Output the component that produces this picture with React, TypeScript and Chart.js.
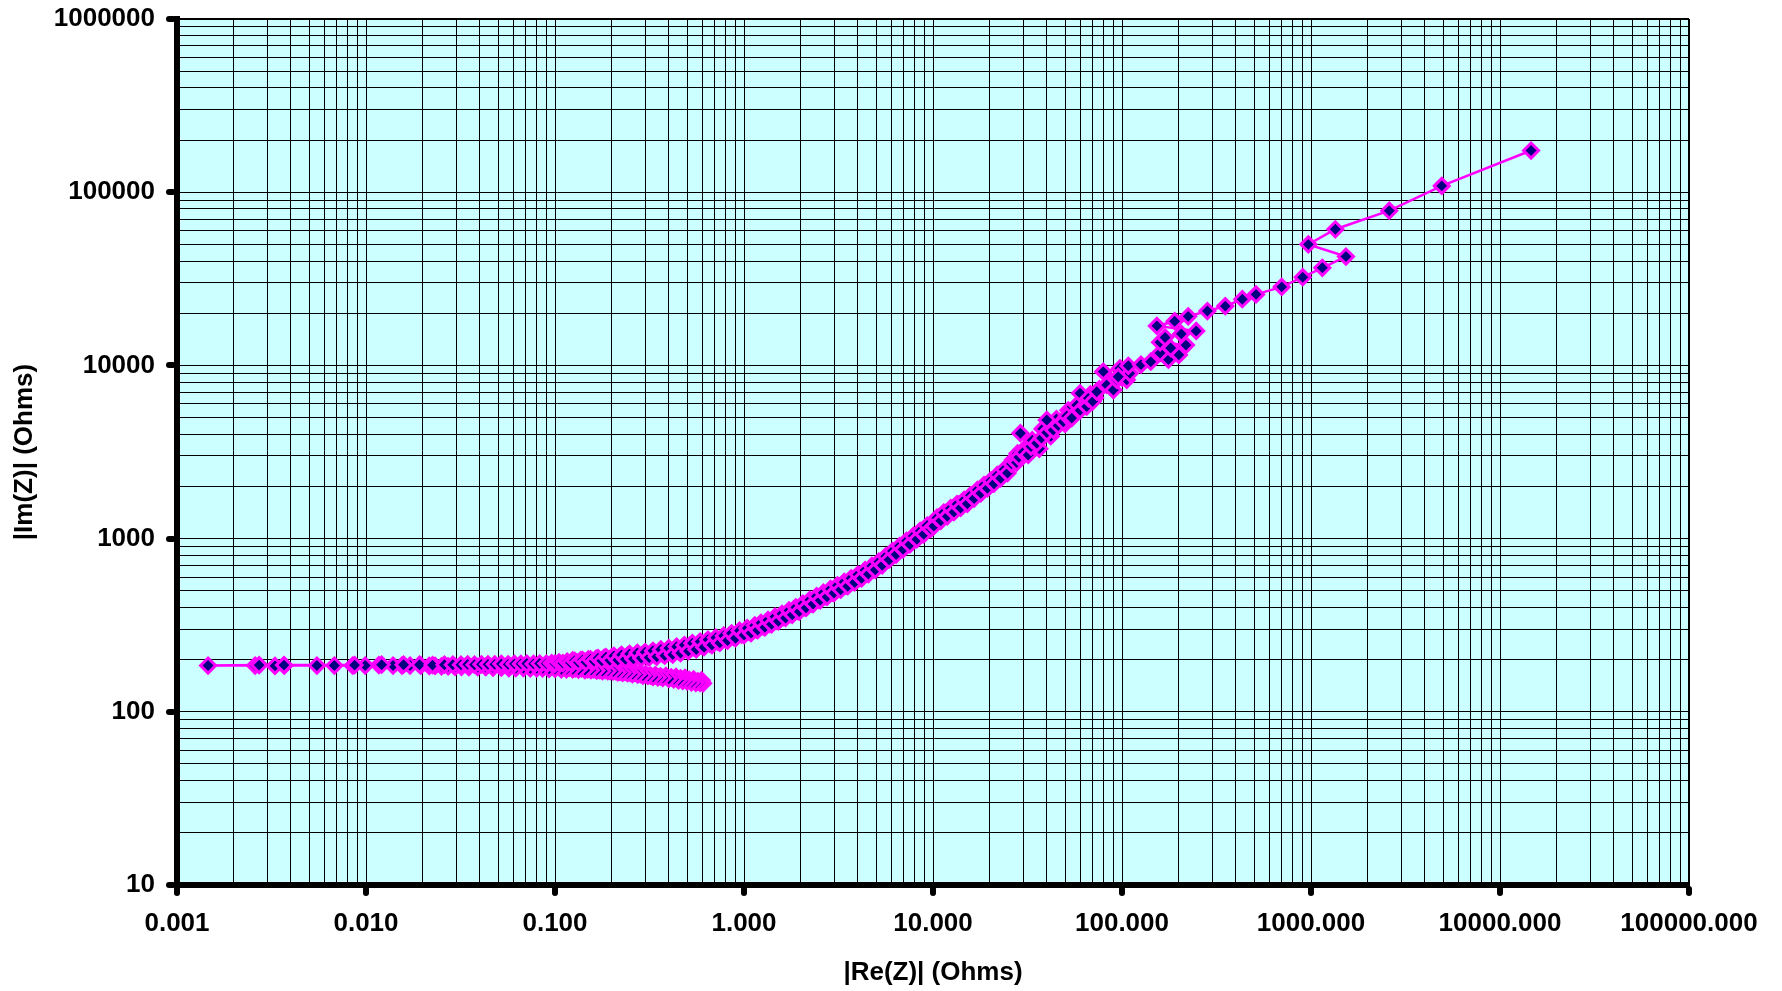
import React, { useEffect, useRef } from "react";
import { Chart, registerables } from "chart.js";

Chart.register(...registerables);

// ---- Data (|Re(Z)|, |Im(Z)|) in Ohms ----
// lower branch, from its tip leftwards to the smallest |Re(Z)|
const LOWER_RE = [0.607, 0.585, 0.556, 0.527, 0.5, 0.474, 0.45, 0.425, 0.4, 0.372, 0.35, 0.33, 0.31, 0.292, 0.274, 0.257, 0.242, 0.228, 0.215, 0.203, 0.19, 0.178, 0.166, 0.155, 0.144, 0.133, 0.124, 0.115, 0.108, 0.1, 0.093, 0.086, 0.08, 0.074, 0.068, 0.062, 0.057, 0.052, 0.047, 0.043, 0.039, 0.035, 0.032, 0.0296, 0.0272, 0.0251, 0.0232, 0.0216, 0.0195, 0.0171, 0.0155, 0.0139, 0.0117, 0.0099, 0.0085, 0.0068, 0.0055, 0.0037, 0.0033, 0.00259, 0.00146];
const LOWER_IM = [146, 147, 147, 148, 150, 151, 152, 154, 155, 157, 158, 159, 161, 162, 164, 165, 167, 168, 169, 171, 172, 172, 173, 174, 174, 175, 176, 176, 176, 177, 177, 178, 178, 178, 179, 179, 179, 180, 180, 181, 181, 181, 182, 182, 183, 183, 184, 184, 185, 185, 185, 185, 186, 185, 185, 185, 185, 185, 184, 185, 185];

// flat upper trace
const FLAT_RE = [0.00272, 0.00368, 0.0087, 0.0121, 0.0158, 0.0192, 0.0225, 0.026, 0.0288, 0.0318, 0.0345, 0.0375, 0.0408, 0.0442, 0.048, 0.052, 0.0565, 0.061, 0.066, 0.071, 0.077, 0.083, 0.09, 0.096];
const FLAT_IM = [186, 186, 186, 187, 187, 187, 186, 187, 187, 187, 188, 187, 188, 188, 188, 189, 188, 189, 189, 190, 189, 190, 190, 191];

// rising band 0.1 .. 1
const BAND_LOW_RE = [0.1, 0.105, 0.11, 0.116, 0.121, 0.127, 0.133, 0.14, 0.146, 0.154, 0.161, 0.169, 0.177, 0.186, 0.195, 0.205, 0.215, 0.225, 0.236, 0.248, 0.26, 0.273, 0.286, 0.3, 0.315, 0.33, 0.346, 0.363, 0.381, 0.4, 0.42, 0.44, 0.462, 0.484, 0.508, 0.533, 0.559, 0.586, 0.615, 0.645, 0.677, 0.71, 0.745, 0.781, 0.819, 0.859, 0.902, 0.946];
const BAND_LOW_IM = [190, 193, 191, 195, 192, 197, 193, 199, 194, 201, 196, 204, 197, 207, 198, 210, 199, 213, 201, 216, 202, 219, 204, 221, 206, 225, 208, 229, 211, 233, 214, 238, 218, 243, 224, 249, 229, 254, 236, 261, 243, 268, 250, 275, 258, 284, 266, 294];

// rising band 1 .. 10
const BAND_MID_RE = [1.0, 1.04, 1.09, 1.14, 1.18, 1.23, 1.29, 1.34, 1.4, 1.46, 1.52, 1.59, 1.66, 1.73, 1.8, 1.88, 1.96, 2.05, 2.13, 2.23, 2.32, 2.42, 2.53, 2.63, 2.75, 2.87, 2.99, 3.12, 3.25, 3.39, 3.54, 3.69, 3.85, 4.01, 4.19, 4.37, 4.55, 4.75, 4.95, 5.17, 5.39, 5.62, 5.86, 6.11, 6.38, 6.65, 6.94, 7.24, 7.55, 7.87, 8.21, 8.56, 8.93, 9.31, 9.72];
const BAND_MID_IM = [277, 304, 285, 315, 296, 326, 307, 339, 320, 354, 333, 368, 348, 385, 363, 401, 379, 421, 398, 443, 419, 465, 440, 487, 461, 512, 484, 537, 507, 562, 531, 590, 558, 620, 589, 657, 624, 695, 660, 736, 701, 790, 755, 848, 809, 906, 867, 970, 925, 1036, 990, 1109, 1059, 1190, 1138];

// rising band 10 .. 25
const BAND_HIGH_RE = [10.1, 10.5, 11.0, 11.4, 11.9, 12.4, 12.9, 13.4, 14.0, 14.6, 15.2, 15.8, 16.5, 17.2, 17.9, 18.6, 19.4, 20.2, 21.0, 21.9, 22.8, 23.8, 24.8];
const BAND_HIGH_IM = [1180, 1320, 1267, 1414, 1344, 1498, 1421, 1581, 1502, 1674, 1589, 1778, 1704, 1914, 1824, 2038, 1949, 2163, 2074, 2330, 2227, 2506, 2390];

// scattered cluster 25 .. 250
const CLUSTER_RE = [26, 27.7, 28.5, 30, 31.9, 33, 29, 33.5, 35.4, 37.5, 40, 40, 43.3, 46, 48.9, 51, 54.2, 57.6, 60, 65, 60, 66.4, 70, 73.5, 83, 90, 93.8, 106, 79.6, 97.6, 110, 95.5, 108, 126, 142, 176, 200, 159, 181, 218, 159, 169, 206, 247, 153, 190, 224];
const CLUSTER_IM = [2700, 2750, 2950, 3150, 3040, 3400, 4060, 3700, 3550, 3800, 4100, 4840, 4240, 4500, 4730, 5100, 4960, 5900, 5500, 5780, 6900, 6460, 6200, 7050, 7710, 7210, 8250, 8250, 9200, 9620, 9000, 8600, 9950, 10100, 10500, 10800, 11500, 11800, 12600, 13100, 13600, 14500, 15200, 15800, 16900, 18000, 19200];

// sparse tail
const TAIL_RE = [283, 352, 433, 512, 700, 904, 1148, 1531, 968, 1345, 2595, 4920, 14600];
const TAIL_IM = [20600, 22000, 24100, 25700, 28400, 32300, 36600, 42500, 50000, 61100, 78200, 108700, 174000];

// second, interleaved sweep: lower branch then up the band
const LOWER2_RE = [0.596, 0.57, 0.541, 0.513, 0.487, 0.462, 0.437, 0.412, 0.386, 0.361, 0.34, 0.32, 0.301, 0.283, 0.265, 0.25, 0.235, 0.221, 0.209, 0.196, 0.184, 0.172, 0.16, 0.149, 0.138, 0.128, 0.119];
const LOWER2_IM = [152, 150, 154, 153, 157, 156, 159, 158, 161, 160, 163, 162, 165, 165, 168, 168, 170, 170, 172, 172, 174, 174, 176, 176, 178, 178, 180];

const BAND2_RE = [
  0.124, 0.13, 0.137, 0.143, 0.15, 0.158, 0.165, 0.173, 0.182, 0.19,
  0.2, 0.21, 0.22, 0.23, 0.242, 0.254, 0.267, 0.28, 0.293, 0.307,
  0.322, 0.338, 0.355, 0.372, 0.39, 0.41, 0.43, 0.451, 0.473, 0.496,
  0.52, 0.546, 0.572, 0.6, 0.63, 0.661, 0.693, 0.727, 0.763, 0.8,
  0.839, 0.88, 0.924, 0.97, 1.02, 1.065, 1.115, 1.16, 1.205, 1.26,
  1.315, 1.37, 1.43, 1.49, 1.555, 1.625, 1.695, 1.765, 1.84, 1.92,
  2.0, 2.09, 2.18, 2.275, 2.37, 2.475, 2.58, 2.69, 2.81, 2.93,
  3.05, 3.18, 3.32, 3.46, 3.61, 3.77, 3.93, 4.1, 4.28, 4.46,
  4.65, 4.85, 5.06, 5.28, 5.5, 5.74, 5.99, 6.24, 6.51, 6.8,
  7.09, 7.39, 7.71, 8.04, 8.38, 8.74, 9.12, 9.51, 9.91, 10.3,
  10.75, 11.2, 11.65, 12.15, 12.65, 13.15, 13.7, 14.3, 14.9, 15.5,
  16.15, 16.85, 17.55, 18.25, 19.0, 19.8, 20.6, 21.45, 22.35, 23.3,
  24.3, 26.5, 28, 30.5, 32.5, 34, 36.5, 38, 42, 45,
  50, 52, 56, 62, 68, 72, 76, 86, 100,
];
const BAND2_IM = [
  198, 193, 199, 194, 201, 196, 203, 197, 205, 199,
  207, 201, 209, 203, 211, 205, 213, 207, 215, 209,
  218, 212, 221, 215, 225, 219, 230, 223, 236, 229,
  242, 235, 247, 240, 253, 247, 260, 254, 267, 261,
  275, 270, 285, 279, 296, 289, 306, 299, 317, 311,
  329, 322, 343, 336, 358, 352, 373, 367, 391, 383,
  408, 402, 428, 422, 450, 443, 472, 465, 496, 488,
  520, 512, 546, 536, 572, 564, 602, 593, 636, 628,
  673, 665, 711, 708, 762, 760, 820, 813, 875, 870,
  937, 930, 1001, 994, 1069, 1063, 1145, 1142, 1233, 1225,
  1322, 1313, 1405, 1392, 1489, 1470, 1571, 1558, 1652, 1646,
  1780, 1774, 1897, 1882, 2030, 2009, 2162, 2156, 2326, 2313,
  2500, 2850, 3100, 3300, 3200, 3500, 3300, 4300, 3900, 4900,
  4600, 5500, 5200, 6000, 6800, 6500, 7300, 8000, 8500,
];

// ---- Axes ----
const X_MAJOR = [0.001, 0.01, 0.1, 1, 10, 100, 1000, 10000, 100000];
const X_LABELS = ["0.001", "0.010", "0.100", "1.000", "10.000", "100.000", "1000.000", "10000.000", "100000.000"];
const Y_MAJOR = [10, 100, 1000, 10000, 100000, 1000000];
const Y_LABELS = ["10", "100", "1000", "10000", "100000", "1000000"];
const MINOR_STEPS = [1, 2, 3, 4, 5, 6, 7, 8, 9];

const X_TITLE = "|Re(Z)| (Ohms)";
const Y_TITLE = "|Im(Z)| (Ohms)";

const FONT_FAMILY = '"Liberation Sans", Arial, Helvetica, sans-serif';

function buildLogTicks(majors: number[]) {
  const out: { value: number; major: boolean }[] = [];
  for (let i = 0; i < majors.length - 1; i++) {
    for (const m of MINOR_STEPS) out.push({ value: majors[i] * m, major: m === 1 });
  }
  out.push({ value: majors[majors.length - 1], major: true });
  return out;
}

function labelFor(v: number, majors: number[], labels: string[]) {
  for (let i = 0; i < majors.length; i++) {
    if (Math.abs(v / majors[i] - 1) < 1e-6) return labels[i];
  }
  return "";
}

const plotDecor = {
  id: "plotDecor",
  beforeDraw(chart: any) {
    const { ctx, chartArea: a } = chart;
    ctx.save();
    ctx.fillStyle = "#CCFFFF";
    ctx.fillRect(a.left, a.top, a.right - a.left, a.bottom - a.top);
    ctx.restore();
  },
  afterDraw(chart: any) {
    const { ctx, chartArea: a, scales } = chart;
    ctx.save();
    ctx.strokeStyle = "#000";
    ctx.lineWidth = 6;
    ctx.lineCap = "round";
    for (const v of X_MAJOR) {
      const px = Math.round(scales.x.getPixelForValue(v));
      ctx.beginPath();
      ctx.moveTo(px, a.bottom + 4);
      ctx.lineTo(px, a.bottom + 8);
      ctx.stroke();
    }
    for (const v of Y_MAJOR) {
      const py = Math.round(scales.y.getPixelForValue(v));
      ctx.beginPath();
      ctx.moveTo(a.left - 4, py);
      ctx.lineTo(a.left - 8, py);
      ctx.stroke();
    }
    ctx.restore();
  },
};

const seriesStyle = {
  showLine: true,
  borderColor: "#FF00FF",
  borderWidth: 2.5,
  pointStyle: "rectRot",
  radius: 7.5,
  pointRadius: 7.5,
  pointHoverRadius: 7.5,
  pointBackgroundColor: "#000080",
  pointBorderColor: "#FF00FF",
  pointBorderWidth: 3,
};

export default function App() {
  const canvasRef = useRef<HTMLCanvasElement | null>(null);

  useEffect(() => {
    const canvas = canvasRef.current;
    if (!canvas) return;
    const re = [...LOWER_RE, ...FLAT_RE, ...BAND_LOW_RE, ...BAND_MID_RE, ...BAND_HIGH_RE, ...CLUSTER_RE, ...TAIL_RE];
    const im = [...LOWER_IM, ...FLAT_IM, ...BAND_LOW_IM, ...BAND_MID_IM, ...BAND_HIGH_IM, ...CLUSTER_IM, ...TAIL_IM];
    const main = re.map((x, i) => ({ x, y: im[i] }));
    const re2 = [...LOWER2_RE, ...BAND2_RE];
    const im2 = [...LOWER2_IM, ...BAND2_IM];
    const second = re2.map((x, i) => ({ x, y: im2[i] }));

    const tickFont = { family: FONT_FAMILY, size: 26, weight: "bold" as const };

    const chart = new Chart(canvas, {
      type: "scatter",
      data: {
        datasets: [
          { data: main, ...seriesStyle } as any,
          { data: second, ...seriesStyle } as any,
        ],
      },
      options: {
        responsive: false,
        animation: false,
        devicePixelRatio: 1,
        events: [],
        elements: {
          point: { pointStyle: "rectRot", radius: 7.5, borderWidth: 3, backgroundColor: "#000080", borderColor: "#FF00FF" },
        },
        layout: { padding: { left: 0, top: 19, right: 93, bottom: 0 } },
        plugins: { legend: { display: false }, tooltip: { enabled: false } },
        scales: {
          x: {
            type: "logarithmic",
            position: "bottom",
            min: 0.001,
            max: 100000,
            afterBuildTicks: (s: any) => {
              s.ticks = buildLogTicks(X_MAJOR);
            },
            afterFit: (s: any) => {
              s.height = 106;
              s.paddingLeft = 0;
              s.paddingRight = 0;
              s.paddingTop = 0;
              s.paddingBottom = 0;
            },
            ticks: {
              autoSkip: false,
              maxRotation: 0,
              minRotation: 0,
              padding: 23,
              color: "#000",
              font: tickFont,
              callback: (v: any) => labelFor(Number(v), X_MAJOR, X_LABELS),
            },
            grid: {
              color: "#000",
              lineWidth: (c: any) => (c.tick && c.tick.value >= 99999 ? 2 : 1),
              drawTicks: false,
            },
            border: { display: true, color: "#000", width: 6 },
            title: {
              display: true,
              text: X_TITLE,
              color: "#000",
              font: tickFont,
              padding: { top: 0, bottom: 3 },
            },
          },
          y: {
            type: "logarithmic",
            position: "left",
            min: 10,
            max: 1000000,
            afterBuildTicks: (s: any) => {
              s.ticks = buildLogTicks(Y_MAJOR);
            },
            afterFit: (s: any) => {
              s.width = 177;
              s.paddingLeft = 0;
              s.paddingRight = 0;
              s.paddingTop = 0;
              s.paddingBottom = 0;
            },
            ticks: {
              autoSkip: false,
              padding: 22,
              color: "#000",
              font: tickFont,
              callback: (v: any) => labelFor(Number(v), Y_MAJOR, Y_LABELS),
            },
            grid: {
              color: "#000",
              lineWidth: (c: any) => (c.tick && c.tick.value >= 999999 ? 2 : 1),
              drawTicks: false,
            },
            border: { display: true, color: "#000", width: 6 },
            title: {
              display: true,
              text: Y_TITLE,
              color: "#000",
              font: tickFont,
              padding: { top: 9, bottom: 0 },
            },
          },
        },
      },
      plugins: [plotDecor],
    } as any);

    return () => chart.destroy();
  }, []);

  return (
    <div style={{ position: "absolute", left: 0, top: 0, width: 1782, height: 991, background: "#fff" }}>
      <canvas ref={canvasRef} width={1782} height={991} style={{ display: "block", width: 1782, height: 991 }} />
    </div>
  );
}
